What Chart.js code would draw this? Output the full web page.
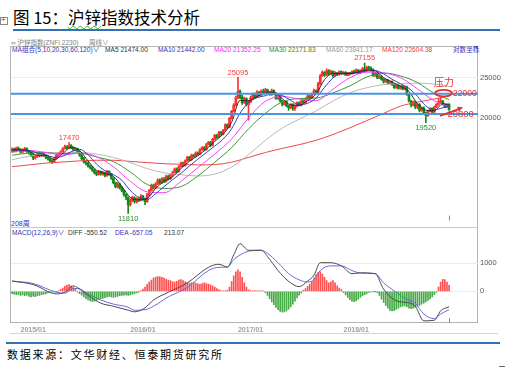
<!DOCTYPE html>
<html lang="zh-CN">
<head>
<meta charset="utf-8">
<title>沪锌指数技术分析</title>
<script src="https://cdn.jsdelivr.net/npm/chart.js@4.4.1/dist/chart.umd.min.js"></script>
<style>
html,body{margin:0;padding:0;background:#fff;}
body{width:509px;height:367px;position:relative;overflow:hidden;font-family:"Liberation Sans","Noto Sans CJK SC",sans-serif;}
.t{position:absolute;white-space:nowrap;line-height:1;}
.ln{position:absolute;}
canvas{position:absolute;left:0;}
</style>
</head>
<body>
<div class="ln" style="left:0;top:17px;width:6px;height:6px;border:1px solid #8a8a8a;"></div>
<div class="t" style="left:1px;top:16px;font-size:8px;color:#555;">+</div>
<div class="t" style="left:13px;top:9px;font-size:16.5px;font-family:'Noto Sans CJK SC';color:#000;">图 15：<span style="text-decoration:underline wavy #3a3;text-decoration-thickness:1px;text-underline-offset:1px;">沪锌</span>指数技术分析</div>
<div class="ln" style="left:13px;top:29px;width:487px;height:2px;background:#3471b3;"></div>

<div class="ln" style="left:10px;top:46px;width:468px;height:277px;box-sizing:border-box;border:1px solid #b4b4b4;"></div>
<div class="ln" style="left:10px;top:227px;width:468px;height:1px;background:#c8c8c8;"></div>
<div class="ln" style="left:474px;top:46px;width:0;height:0;border-left:4px solid transparent;border-top:4px solid #666;"></div>

<div class="t" style="left:11px;top:40px;font-size:6.5px;color:#808080;">∞ 沪锌指数(ZNFI 2230)</div>
<div class="t" style="left:89px;top:40px;font-size:6.5px;color:#808080;">周线∨</div>

<div class="t" style="left:12px;top:46.5px;font-size:6.6px;color:#3333c0;">MA组合(5,10,20,30,60,120)∨</div>
<div class="t" style="left:105px;top:46.5px;font-size:6.6px;color:#333;">MA5 21474.00</div>
<div class="t" style="left:158px;top:46.5px;font-size:6.6px;color:#3333c0;">MA10 21442.00</div>
<div class="t" style="left:214px;top:46.5px;font-size:6.6px;color:#ff22ff;">MA20 21352.25</div>
<div class="t" style="left:269px;top:46.5px;font-size:6.6px;color:#2e8b2e;">MA30 22171.83</div>
<div class="t" style="left:326px;top:46.5px;font-size:6.6px;color:#9a9a9a;">MA60 23841.17</div>
<div class="t" style="left:382px;top:46.5px;font-size:6.6px;color:#ff3333;">MA120 22604.38</div>
<div class="t" style="left:453px;top:46.5px;font-size:6.6px;color:#3333c0;">对数坐标</div>

<div class="t" style="left:11px;top:219.5px;font-size:7px;color:#3333c0;">208周</div>

<div class="t" style="left:12px;top:229.5px;font-size:6.6px;color:#3333c0;">MACD(12,26,9)∨</div>
<div class="t" style="left:68px;top:229.5px;font-size:6.6px;color:#333;">DIFF -550.52</div>
<div class="t" style="left:115px;top:229.5px;font-size:6.6px;color:#3333c0;">DEA -657.05</div>
<div class="t" style="left:164px;top:229.5px;font-size:6.6px;color:#333;">213.07</div>

<div class="ln" style="left:10px;top:333px;width:488px;height:1px;background:#d4d4d4;"></div>
<div class="ln" style="left:6px;top:342px;width:494px;height:2px;background:#3471b3;"></div>
<div class="t" style="left:7px;top:348.5px;font-size:11px;letter-spacing:1.75px;font-family:'Noto Sans CJK SC';color:#000;">数据来源：文华财经、恒泰期货研究所</div>
<div class="ln" style="left:499px;top:366px;width:6px;height:1px;background:#666;"></div>

<canvas id="price" width="509" height="181" style="top:46px;"></canvas>
<canvas id="macd" width="509" height="110" style="top:227px;"></canvas>

<script>
// ---------------- data (weekly, 208 bars) ----------------
const opens = [
16700,16850,16700,16950,16800,16600,16750,16900,16650,16500,
16300,16050,16200,16400,16250,16450,16300,16100,15950,15800,
15700,16000,16300,16450,16600,16900,17100,16950,17200,17000,
16800,16900,16600,16300,16000,15700,15600,15350,15200,15000,
14800,14650,14900,14700,14800,14550,14900,14700,14350,14000,
13700,13900,13600,13400,13100,12900,12400,12700,12900,12600,
12800,12700,13000,12800,12600,13100,13400,13800,13600,13900,
14200,14000,14300,14100,14500,14300,14600,14800,15100,14900,
15300,15600,15400,15800,16100,15900,16300,16200,16500,16400,
16800,17000,16800,17300,17500,17200,17800,18200,18000,18500,
18300,18700,19300,19000,20000,20800,21500,22400,23200,22500,
21800,22300,21600,21900,22400,22800,22500,23100,22700,23200,
23000,23400,23100,22800,23300,22900,22300,22600,22000,21600,
21900,21400,21200,21600,21100,21400,21800,21500,22000,21800,
22300,22600,22400,22900,23300,23100,24200,25300,25800,25400,
26000,25600,25900,25300,25700,25500,25900,25600,25800,25400,
25700,25600,25900,25800,26100,25700,26000,26300,26100,26500,
26400,26200,25300,25700,25000,25200,24800,24500,24700,24300,
24500,24100,23700,24000,23600,23900,23500,23800,22800,22000,
21500,21900,21300,21600,20900,21200,20600,20300,20800,21100,
20700,21300,21600,21900,22000,21600,21300,21600];
const highs = [
16980,16950,17050,17080,16900,16880,17020,16980,16750,16580,
16400,16300,16520,16480,16560,16520,16380,16180,16050,15900,
16100,16380,16550,16700,17000,17250,17200,17470,17300,17100,
17000,16950,16700,16350,16100,15800,15700,15450,15300,15100,
14900,15000,14950,14900,14850,15000,14950,14750,14400,14050,
14000,13950,13700,13450,13150,12950,12800,13000,12950,12900,
12900,13100,13050,12850,13200,13500,13900,13900,14000,14300,
14300,14400,14400,14600,14600,14700,14900,15200,15200,15400,
15700,15700,15900,16200,16200,16400,16400,16600,16600,16900,
17100,17100,17400,17600,17600,17900,18300,18300,18600,18600,
18800,19400,19400,20100,20900,21700,22600,25095,23400,22700,
22500,22400,22100,22600,23000,23000,23300,23200,23400,23500,
23600,23500,23200,23500,23400,23000,22800,22700,22100,22000,
22000,21500,21700,21700,21500,21900,21900,22100,22100,22400,
22800,22700,23000,23500,23400,24400,25500,26000,25900,26300,
26200,26100,26000,25900,25800,26000,26000,25900,25900,25800,
25800,26000,26100,26300,26200,26200,26500,27155,26700,26700,
26600,26300,25800,25800,25400,25300,24900,24800,24800,24600,
24600,24200,24100,24100,24000,24000,23900,23900,22900,22100,
22000,22000,21700,21700,21300,21300,20700,20900,21200,21200,
21400,21700,22300,22400,22100,21700,21700,21700];
const lows = [
16550,16580,16600,16700,16480,16500,16650,16550,16400,16200,
15900,15950,16100,16150,16180,16200,16000,15850,15700,15580,
15650,15950,16200,16380,16550,16850,16850,16900,16900,16700,
16700,16500,16200,15900,15600,15450,15250,15100,14900,14700,
14550,14600,14600,14600,14450,14500,14600,14250,13900,13600,
13600,13500,13300,13000,12750,11810,12300,12600,12500,12500,
12600,12650,12700,12400,12550,13000,13350,13500,13550,13850,
13900,13950,14000,14050,14200,14250,14500,14750,14800,14850,
15250,15300,15350,15750,15800,15850,16100,16150,16300,16350,
16750,16700,16750,17250,17100,17150,17750,17900,17950,18200,
18250,18650,18900,18950,19900,20700,21400,22300,22300,21600,
21700,21400,19800,21800,22300,22400,22400,22600,22600,22900,
22900,23000,22700,22700,22800,22200,22200,21900,21400,21500,
21300,20900,21100,20900,20900,21300,21400,21400,21700,21700,
22200,22300,22300,22800,23000,23000,24100,25200,25200,25300,
25400,25500,25100,25200,25300,25400,25500,25500,25300,25300,
25400,25500,25600,25700,25600,25600,25900,26000,26000,26200,
26000,25200,25200,24900,24900,24700,24300,24400,24200,24200,
24000,23600,23600,23500,23500,23400,23400,22700,21900,21300,
21400,21100,21100,20700,20800,20400,19520,20200,20700,20600,
20600,21200,21500,21700,21500,21200,21200,20900];
const closes = [
16850,16700,16950,16800,16600,16750,16900,16650,16500,16300,
16050,16200,16400,16250,16450,16300,16100,15950,15800,15700,
16000,16300,16450,16600,16900,17100,16950,17200,17000,16800,
16900,16600,16300,16000,15700,15600,15350,15200,15000,14800,
14650,14900,14700,14800,14550,14900,14700,14350,14000,13700,
13900,13600,13400,13100,12900,12400,12700,12900,12600,12800,
12700,13000,12800,12600,13100,13400,13800,13600,13900,14200,
14000,14300,14100,14500,14300,14600,14800,15100,14900,15300,
15600,15400,15800,16100,15900,16300,16200,16500,16400,16800,
17000,16800,17300,17500,17200,17800,18200,18000,18500,18300,
18700,19300,19000,20000,20800,21500,22400,23200,22500,21800,
22300,21600,21900,22400,22800,22500,23100,22700,23200,23000,
23400,23100,22800,23300,22900,22300,22600,22000,21600,21900,
21400,21200,21600,21100,21400,21800,21500,22000,21800,22300,
22600,22400,22900,23300,23100,24200,25300,25800,25400,26000,
25600,25900,25300,25700,25500,25900,25600,25800,25400,25700,
25600,25900,25800,26100,25700,26000,26300,26100,26500,26400,
26200,25300,25700,25000,25200,24800,24500,24700,24300,24500,
24100,23700,24000,23600,23900,23500,23800,22800,22000,21500,
21900,21300,21600,20900,21200,20600,20300,20800,21100,20700,
21300,21600,21900,22000,21600,21300,21600,21000];

// moving averages (sparse points along each curve)
const maIdxA = [0,4,8,12,16,20,24,28,32,36,40,44,48,52,56,60,64,68,72,76,80,84,88,92,96,100,104,108,112,116,120,124,128,132,136,140,144,148,152,156,160,164,168,172,176,180,184,188,192,196,200,204,207];
const ma5  = [16800,16780,16680,16290,16300,15910,16450,17030,16720,15790,15000,14720,14500,13720,12900,12740,12840,13560,14100,14460,15140,15760,16260,16860,17600,18340,19560,22080,22020,22540,23080,23100,22280,21540,21480,22040,22860,24760,25640,25600,25620,25820,26120,26020,25040,24420,23860,23200,21660,20920,20840,21680,21474];
const ma10 = [16750,16800,16740,16515,16320,16115,16210,16620,16835,16345,15520,14955,14635,14190,13405,12910,12760,13170,13700,14230,14750,15350,15950,16530,17150,17830,18860,20570,21800,22410,22660,23000,22700,22080,21550,21730,22370,23730,24990,25670,25640,25750,25970,26030,25570,24810,24210,23590,22590,21410,20980,21190,21442];
const maIdxB = [0,8,16,24,32,40,48,56,64,72,80,88,96,104,112,120,128,136,144,152,160,168,176,184,192,200,207];
const ma20  = [16700,16720,16560,16330,16480,16170,15290,14110,13310,13245,14095,15215,16405,17830,20025,21970,22565,22240,22040,23485,25020,25810,25700,25040,23535,22025,21352];
const ma30  = [16300,16500,16550,16450,16490,16150,15730,14860,13860,13560,13700,14530,15680,17000,18860,20550,21900,22300,22360,23020,23920,25120,25690,25280,24370,22950,22171];
const ma60  = [15900,16200,16400,16500,16550,16400,16100,15645,15130,14790,14630,14530,14690,15270,16350,17700,18940,19890,20830,22000,23020,23680,24090,24230,24290,24170,23841];
const ma120 = [15300,15450,15600,15700,15800,15850,15850,15750,15650,15550,15500,15450,15480,15680,16100,16545,16930,17280,17705,18280,18970,19740,20550,21390,21860,22260,22604];

// pressure / support lines, extremes and tick values
const levelLines = [22900, 20480];
const extremeIdx  = [27, 55, 107, 167, 196];
const extremeVal  = [17470, 11810, 25095, 27155, 19520];
const extremeKind = ['H', 'L', 'H', 'H', 'L'];
const priceTicks = [20000, 25000];
const macdTicks = [0, 1000];
const xTickIdx = [4, 56, 107, 157];
const xTickLabels = ['2015/01', '2016/01', '2017/01', '2018/01'];

// MACD (12,26,9)
const macdIdx = [0,10,21,25,29,31,36,42,48,55,58,63,67,74,83,93,98,102,105,108,112,118,121,126,131,136,140,143,146,151,156,161,165,172,176,183,186,191,195,200,203,207];
const diffVals = [367,243,-90,-33,190,133,-143,-423,-533,-677,-733,-590,-310,-33,300,857,967,867,1300,1700,1467,1467,1243,743,357,167,367,577,1023,1023,910,633,657,633,77,-367,-390,-533,-1057,-1033,-700,-551];
const deaVals  = [367,277,-33,-67,100,100,-90,-310,-456,-567,-677,-657,-533,-200,133,743,857,867,1133,1300,1433,1467,1357,1023,633,410,333,410,743,910,910,743,657,633,300,-90,-257,-423,-810,-977,-810,-657];
const macdBars = [
-80,-100,-120,-110,-150,-130,-160,-140,-180,-200,-170,-190,-160,-150,-120,-100,-90,-60,-40,-30,-10,
-5,10,
60,120,180,220,240,200,150,80,
-30,-80,-140,-200,-260,-310,-340,-360,-350,-330,-300,-260,-250,-230,-200,-180,-200,-220,-200,-180,-160,-150,-140,-130,-150,-130,-100,-80,-60,-40,
30,80,150,250,330,400,470,510,530,520,500,470,430,400,380,350,330,360,400,420,380,340,310,290,300,320,290,270,250,280,300,280,260,230,200,150,100,60,30,20,
10,40,150,350,550,700,770,700,500,300,150,50,
30,20,30,20,10,20,10,
-50,-150,-260,-380,-480,-580,-660,-720,-750,-740,-700,-640,-560,-460,-350,-240,-140,-60,
40,100,180,260,360,480,600,680,700,620,500,380,300,340,380,300,200,120,60,
-50,-130,-220,-300,-350,-370,-340,-280,-220,-160,-120,-80,-40,-20,-10,-5,
-50,-150,-280,-400,-500,-600,-680,-700,-690,-650,-600,-560,-540,-520,-560,-600,-620,-600,-580,-540,-500,-460,-420,-380,-330,-270,-200,-120,-40,
150,330,430,420,330,213];

// ---------------- chart setup ----------------
Chart.defaults.font.family = '"Liberation Sans", "Noto Sans CJK SC", sans-serif';
const X_MIN = -0.5, X_MAX = 220.7;
const UP = '#ff3030', DOWN = '#0f8c18';
const candleColors = closes.map((c, i) => c >= opens[i] ? UP : DOWN);
const pts = (idx, vals) => idx.map((x, k) => ({x, y: vals[k]}));
const maLine = (label, idx, vals, color) => ({
  type: 'line', label, data: pts(idx, vals), borderColor: color, borderWidth: 1,
  pointRadius: 0, cubicInterpolationMode: 'monotone', order: 1, fill: false
});

const annotPlugin = {
  id: 'annot',
  afterDatasetsDraw(chart) {
    const {ctx, scales: {x, y}} = chart;
    ctx.save();
    ctx.font = '7.5px "Liberation Sans"';
    ctx.textAlign = 'center';
    extremeIdx.forEach((idx, k) => {
      const px = x.getPixelForValue(idx), py = y.getPixelForValue(extremeVal[k]);
      const hi = extremeKind[k] === 'H';
      ctx.fillStyle = hi ? '#f23c3c' : '#2a8c2a';
      ctx.textBaseline = hi ? 'bottom' : 'top';
      ctx.fillText(String(extremeVal[k]), px, hi ? py - 1 : py + 1.5);
    });
    // resistance ellipse
    const ex = x.getPixelForValue(204.4), ey = y.getPixelForValue(22980);
    ctx.strokeStyle = '#e8302c'; ctx.lineWidth = 1.8;
    ctx.beginPath(); ctx.ellipse(ex, ey, 8.5, 3.2, 0, 0, Math.PI * 2); ctx.stroke();
    ctx.fillStyle = '#e8302c';
    ctx.font = '10px "Noto Sans CJK SC"'; ctx.textBaseline = 'middle'; ctx.textAlign = 'center';
    ctx.fillText('压力', x.getPixelForValue(204.6), y.getPixelForValue(24440));
    ctx.font = '8.5px "Liberation Sans"'; ctx.textAlign = 'left';
    ctx.fillText('22000', x.getPixelForValue(208.9), y.getPixelForValue(22920));
    ctx.font = '9.5px "Liberation Sans"';
    ctx.fillText('20800', x.getPixelForValue(206.2), y.getPixelForValue(20480));
    // arrow
    const ax1 = x.getPixelForValue(202.7), ay1 = y.getPixelForValue(20270);
    const ax2 = x.getPixelForValue(213.6), ay2 = y.getPixelForValue(21250);
    ctx.lineWidth = 1.8; ctx.beginPath(); ctx.moveTo(ax1, ay1); ctx.lineTo(ax2 - 3, ay2 + 1.3); ctx.stroke();
    const ang = Math.atan2(ay2 - ay1, ax2 - ax1);
    ctx.beginPath(); ctx.moveTo(ax2, ay2);
    ctx.lineTo(ax2 - 6 * Math.cos(ang - 0.45), ay2 - 6 * Math.sin(ang - 0.45));
    ctx.lineTo(ax2 - 6 * Math.cos(ang + 0.45), ay2 - 6 * Math.sin(ang + 0.45));
    ctx.closePath(); ctx.fill();
    // current bar marker
    const lx = Math.round(x.getPixelForValue(closes.length - 1)) + 0.5;
    ctx.strokeStyle = '#888'; ctx.lineWidth = 1;
    ctx.beginPath(); ctx.moveTo(lx, chart.chartArea.bottom - 5); ctx.lineTo(lx, chart.chartArea.bottom); ctx.stroke();
    ctx.restore();
  }
};

new Chart(document.getElementById('price'), {
  type: 'bar',
  data: {
    datasets: [
      ...levelLines.map(v => ({type: 'line', data: [{x: X_MIN, y: v}, {x: X_MAX, y: v}],
        borderColor: '#4a94e6', borderWidth: 2, pointRadius: 0, order: 0})),
      maLine('MA5', maIdxA, ma5, '#2b2b2b'),
      maLine('MA10', maIdxA, ma10, '#3c3cc0'),
      maLine('MA20', maIdxB, ma20, '#ff3cff'),
      maLine('MA30', maIdxB, ma30, '#3a9a3a'),
      maLine('MA60', maIdxB, ma60, '#b8b8b8'),
      maLine('MA120', maIdxB, ma120, '#f04848'),
      {type: 'bar', data: closes.map((c, i) => ({x: i, y: [opens[i], c]})),
        backgroundColor: candleColors, barThickness: 2, grouped: false, order: 2},
      {type: 'bar', data: closes.map((c, i) => ({x: i, y: [lows[i], highs[i]]})),
        backgroundColor: candleColors, barThickness: 1, grouped: false, order: 3}
    ]
  },
  options: {
    responsive: false, animation: false, events: [],
    layout: {padding: {left: 11, top: 6, right: 0, bottom: 0}},
    plugins: {legend: {display: false}, tooltip: {enabled: false}},
    scales: {
      x: {type: 'linear', min: X_MIN, max: X_MAX, offset: false, display: false, bounds: 'data'},
      y: {type: 'logarithmic', position: 'right', min: 11357, max: 28780, bounds: 'data',
        afterBuildTicks: s => { s.ticks = priceTicks.map(v => ({value: v})); },
        afterFit: s => { s.width = 31; },
        ticks: {callback: v => String(v), color: '#555', font: {size: 7.5}, padding: 2},
        grid: {color: '#ececec', drawTicks: false}, border: {display: false}}
    }
  },
  plugins: [annotPlugin]
});

const macdPlugin = {
  id: 'macdMarker',
  afterDatasetsDraw(chart) {
    const {ctx, scales: {x}} = chart;
    const lx = Math.round(x.getPixelForValue(closes.length - 1)) + 0.5;
    ctx.save(); ctx.strokeStyle = '#888'; ctx.lineWidth = 1;
    ctx.beginPath(); ctx.moveTo(lx, chart.chartArea.bottom - 5); ctx.lineTo(lx, chart.chartArea.bottom); ctx.stroke();
    ctx.restore();
  }
};

new Chart(document.getElementById('macd'), {
  type: 'bar',
  data: {
    datasets: [
      {type: 'line', label: 'DIFF', data: pts(macdIdx, diffVals), borderColor: '#4a4a4a', borderWidth: 1,
        pointRadius: 0, cubicInterpolationMode: 'monotone', order: 0},
      {type: 'line', label: 'DEA', data: pts(macdIdx, deaVals), borderColor: '#6a6ae0', borderWidth: 1,
        pointRadius: 0, cubicInterpolationMode: 'monotone', order: 1},
      {type: 'bar', label: 'MACD', data: macdBars.map((v, i) => ({x: i, y: v})),
        backgroundColor: macdBars.map(v => v >= 0 ? '#ff5050' : '#46aa46'), barThickness: 1, order: 2}
    ]
  },
  options: {
    responsive: false, animation: false, events: [],
    layout: {padding: {left: 11, top: 0, right: 0, bottom: 0}},
    plugins: {legend: {display: false}, tooltip: {enabled: false}},
    scales: {
      x: {type: 'linear', min: X_MIN, max: X_MAX, offset: false, bounds: 'data',
        afterBuildTicks: s => { s.ticks = xTickIdx.map(v => ({value: v})); },
        afterFit: s => { s.height = 14; },
        ticks: {align: 'start', autoSkip: false, maxRotation: 0, padding: 3, color: '#a0a0a0',
          font: {size: 7, weight: 'bold'}, callback: (v, i) => xTickLabels[i]},
        grid: {display: false, drawTicks: false}, border: {display: false}},
      y: {position: 'right', min: -1133, max: 2067, bounds: 'data',
        afterBuildTicks: s => { s.ticks = macdTicks.map(v => ({value: v})); },
        afterFit: s => { s.width = 31; },
        ticks: {callback: v => String(v), color: '#555', font: {size: 7.5}, padding: 2},
        grid: {color: '#ececec', drawTicks: false}, border: {display: false}}
    }
  },
  plugins: [macdPlugin]
});
</script>
</body>
</html>
